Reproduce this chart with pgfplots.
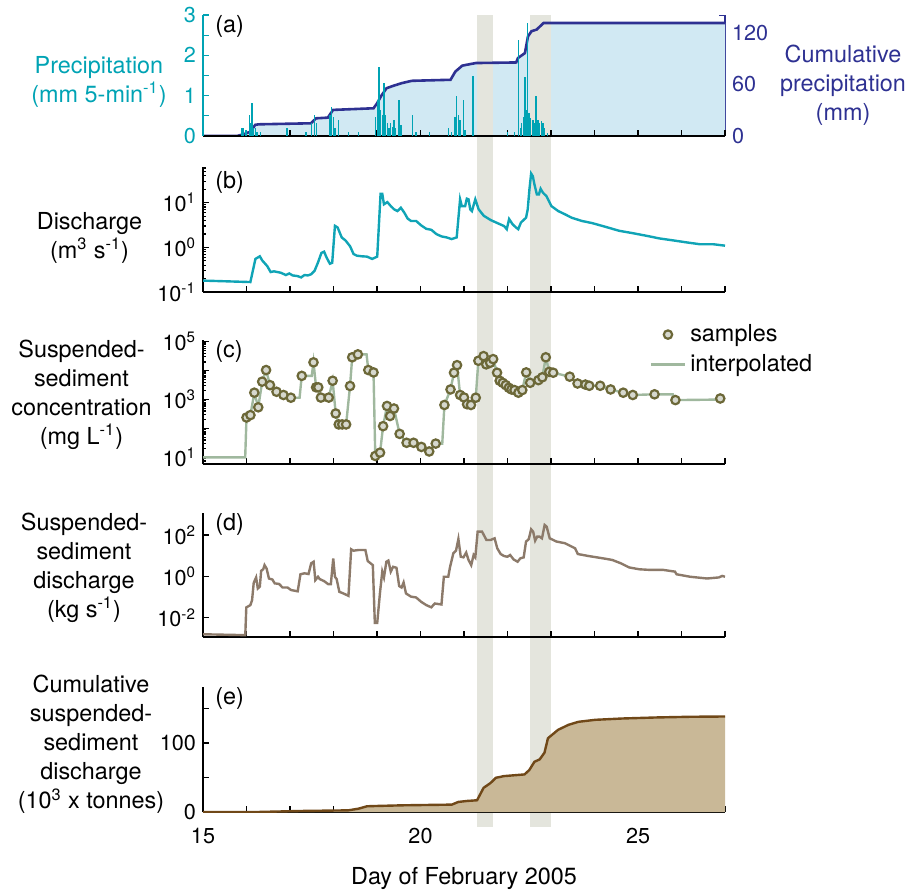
\documentclass[border=0pt]{standalone}
\usepackage{pgfplots}
\pgfplotsset{compat=1.18}
\usepackage{fontspec}
\setmainfont{TeX Gyre Heros}
\definecolor{preccol}{RGB}{0,163,180}
\definecolor{navycol}{RGB}{46,49,146}
\definecolor{cumfill}{RGB}{209,233,243}
\definecolor{qcol}{RGB}{16,164,182}
\definecolor{sampedge}{RGB}{108,104,56}
\definecolor{sampfill}{RGB}{214,216,206}
\definecolor{interp}{RGB}{160,184,158}
\definecolor{qscol}{RGB}{140,122,106}
\definecolor{cumline}{RGB}{112,72,24}
\definecolor{cumtan}{RGB}{201,184,151}
\definecolor{bandcol}{RGB}{228,229,221}
\newcommand\labf{\fontsize{11.7}{14.5}\selectfont}
\newcommand\tickf{\fontsize{10.8}{13}\selectfont}
\pgfplotsset{
  base/.style={
    scale only axis, width=261pt, xmin=15, xmax=27,
    anchor=south west,
    axis x line*=bottom, axis y line*=left,
    axis line style={-, line width=0.7pt},
    xtick={15,...,27}, xticklabels={},
    tick align=inside,
    major tick length=2.8pt, minor tick length=1.6pt,
    every tick/.style={black, line width=0.6pt},
    tick label style={font=\tickf},
  },
}
\begin{document}
\begin{tikzpicture}
% background bands spanning all panels
\begin{axis}[scale only axis, width=261pt, height=406pt, anchor=south west,
  at={(101.5pt,-413.5pt)}, xmin=15, xmax=27, ymin=0, ymax=1, hide axis]
\fill[bandcol] (axis cs:21.31,0) rectangle (axis cs:21.66,1);
\fill[bandcol] (axis cs:22.51,0) rectangle (axis cs:23.01,1);
\end{axis}

% (a) cumulative precipitation, right axis
\begin{axis}[base, at={(101.5pt,-68pt)}, height=60.5pt,
  axis y line*=right, axis x line=none,
  ymin=0, ymax=141, ytick={0,60,120}, yticklabels={0,60,120},
  minor ytick={20,40,80,100,140}, minor tick length=2.8pt,
  y axis line style={navycol}, ytick style={navycol, line width=0.6pt},
  yticklabel style={navycol}]
\addplot[fill=cumfill, draw=none] coordinates {
(15,0) (15.78,0) (15.93,2) (16.09,5) (16.2,13) (16.28,13.6) (17.48,14.8) (17.6,20.6)
(17.87,21.4) (17.99,30.4) (18.92,32.3) (19.0,38) (19.1,47) (19.22,55.7) (19.37,58.4)
(19.57,61.6) (19.8,64.3) (20.69,65.5) (20.8,75) (20.96,82) (21.27,85) (22.2,85.7)
(22.24,90.8) (22.4,96.6) (22.47,116) (22.55,122) (22.67,124) (22.83,131.7) (27,131.7)
} \closedcycle;
\fill[bandcol] (axis cs:21.31,0) rectangle (axis cs:21.66,141);
\fill[bandcol] (axis cs:22.51,0) rectangle (axis cs:23.01,141);
\addplot[navycol, line width=1.3pt] coordinates {
(15,0) (15.78,0) (15.93,2) (16.09,5) (16.2,13) (16.28,13.6) (17.48,14.8) (17.6,20.6)
(17.87,21.4) (17.99,30.4) (18.92,32.3) (19.0,38) (19.1,47) (19.22,55.7) (19.37,58.4)
(19.57,61.6) (19.8,64.3) (20.69,65.5) (20.8,75) (20.96,82) (21.27,85) (22.2,85.7)
(22.24,90.8) (22.4,96.6) (22.47,116) (22.55,122) (22.67,124) (22.83,131.7) (27,131.7)
};
\end{axis}

% (a) precipitation bars, left axis
\begin{axis}[base, at={(101.5pt,-68pt)}, height=60.5pt,
  ymin=0, ymax=3, ytick={0,1,2,3}, yticklabels={0,1,2,3},
  minor ytick={0.5,1.5,2.5}, minor tick length=2.8pt,
  y axis line style={preccol}, ytick style={preccol, line width=0.6pt},
  yticklabel style={preccol}]
\addplot[ycomb, preccol, line width=0.7pt] coordinates {
(15.894,0.21) (15.933,0.19) (15.988,0.15) (16.065,0.52) (16.089,0.31) (16.128,0.81)
(16.166,0.19) (16.205,0.19) (16.244,0.11) (16.322,0.11) (16.928,0.21) (17.372,0.11)
(17.488,0.31) (17.566,0.52) (17.605,0.31) (17.916,0.52) (17.955,0.73) (17.994,0.48)
(18.033,0.19) (18.11,0.40) (18.344,0.11) (18.577,0.11) (18.966,0.48) (19.005,0.89)
(19.044,1.72) (19.082,0.64) (19.121,0.52) (19.16,1.31) (19.199,0.52) (19.238,0.31)
(19.277,0.19) (19.316,0.31) (19.355,0.23) (19.393,0.40) (19.432,0.19) (19.51,0.89)
(19.549,0.27) (19.821,0.52) (19.899,0.11) (20.21,0.11) (20.638,0.19) (20.715,0.11)
(20.793,0.48) (20.832,0.98) (20.871,0.52) (20.91,0.40) (20.988,0.89) (21.026,0.15)
(21.205,1.49) (21.998,0.11) (22.154,0.11) (22.247,2.38) (22.294,0.19) (22.325,0.31)
(22.371,0.48) (22.403,1.47) (22.434,0.64) (22.465,2.79) (22.496,0.56) (22.527,0.44)
(22.582,0.40) (22.62,0.31) (22.659,0.98) (22.698,0.40) (22.737,0.31) (22.776,0.36)
(22.815,0.31) (22.854,0.19) (22.916,0.07)
};
\node[anchor=north west, font=\labf, inner sep=0pt] at (rel axis cs:0.023,1) {(a)};
\end{axis}

% (b) discharge
\begin{axis}[base, at={(101.5pt,-146pt)}, height=62.5pt,
  ymode=log, ymin=0.1, ymax=63,
  ytick={0.1,1,10}, yticklabels={10\textsuperscript{-1},10\textsuperscript{0},10\textsuperscript{1}},
  minor ytick={0.2,0.3,0.4,0.5,0.6,0.7,0.8,0.9,2,3,4,5,6,7,8,9,20,30,40,50,60}]
\addplot[qcol, line width=1.2pt] coordinates {
(15.0,0.18) (16.089,0.167) (16.205,0.55) (16.306,0.63) (16.361,0.51) (16.477,0.38)
(16.555,0.28) (16.633,0.29) (16.788,0.27) (16.905,0.24) (16.983,0.26) (17.061,0.235)
(17.177,0.227) (17.255,0.212) (17.333,0.24) (17.411,0.235) (17.488,0.25) (17.566,0.30)
(17.644,0.46) (17.722,0.75) (17.784,0.80) (17.838,0.60) (17.916,0.43) (17.970,0.45)
(18.033,3.03) (18.095,2.78) (18.188,1.67) (18.281,1.41) (18.383,1.05) (18.46,0.71)
(18.538,0.65) (18.655,0.63) (18.771,0.62) (18.888,0.55) (19.005,0.62) (19.082,15.8)
(19.121,15.8) (19.16,9.2) (19.238,10.3) (19.316,8.4) (19.393,7.1) (19.471,6.5)
(19.549,7.7) (19.627,6.0) (19.705,4.4) (19.782,3.9) (19.899,3.9) (20.016,3.1)
(20.132,2.6) (20.249,2.47) (20.365,1.98) (20.482,1.76) (20.599,1.67) (20.715,1.53)
(20.832,1.67) (20.91,11.9) (20.949,8.4) (21.026,8.4) (21.065,12.3) (21.104,11.9)
(21.143,7.1) (21.182,6.5) (21.26,11.9) (21.337,7.1) (21.454,5.1) (21.61,4.1)
(21.765,3.5) (21.921,3.0) (21.983,2.55) (22.037,4.3) (22.115,3.3) (22.193,2.8)
(22.247,2.55) (22.309,3.6) (22.426,4.6) (22.465,7.1) (22.504,19.8) (22.543,44.9)
(22.582,39.1) (22.62,25.5) (22.675,15.3) (22.722,15.3) (22.761,20.5) (22.815,16.7)
(22.893,14.1) (23.009,8.4) (23.165,6.5) (23.32,5.5) (23.476,4.6) (23.709,3.9)
(23.942,3.5) (24.253,2.88) (24.565,2.35) (24.876,2.08) (25.187,1.82) (25.498,1.58)
(25.809,1.43) (26.12,1.29) (26.431,1.17) (26.742,1.17) (27.0,1.09)
};
\node[anchor=north west, font=\labf, inner sep=0pt] at (rel axis cs:0.023,0.97) {(b)};
\end{axis}

% (c) SSC
\begin{axis}[base, at={(101.5pt,-232pt)}, height=62pt,
  ymode=log, ymin=5.9, ymax=1.15e5,
  ytick={10,100,1000,10000,100000},
  yticklabels={10\textsuperscript{1},,10\textsuperscript{3},,10\textsuperscript{5}},
  minor ytick={6,7,8,9,20,30,40,50,60,70,80,90,200,300,400,500,600,700,800,900,2000,3000,4000,5000,6000,7000,8000,9000,20000,30000,40000,50000,60000,70000,80000,90000},
  legend style={at={(0.855,1.16)}, anchor=north west, draw=none, fill=none,
    font=\labf, inner sep=0pt, row sep=1pt},
  legend cell align=left]
\addplot[interp, line width=1.2pt, forget plot] coordinates {
(15,10) (15.97,10) (16.0,240) (16.09,290) (16.18,1730) (16.27,540) (16.36,4170)
(16.45,10500) (16.54,3160) (16.69,1860) (16.85,1440) (17.02,1160) (17.22,1160)
(17.27,6600) (17.50,6600) (17.54,19400) (17.60,2650) (17.65,2650) (17.71,1170)
(17.89,1170) (17.98,4480) (18.05,330) (18.12,138) (18.2,138) (18.29,138) (18.38,2950)
(18.43,29000) (18.56,36600) (18.76,36600) (18.80,10500) (18.92,8700) (18.96,11.2)
(19.07,14.6) (19.14,120) (19.23,600) (19.30,270) (19.39,490) (19.52,65) (19.68,32)
(19.84,32) (20.02,23) (20.20,16) (20.35,30) (20.50,30) (20.55,650) (20.69,2240)
(20.77,8500) (20.84,15500) (20.91,1440) (21.0,1180) (21.07,690) (21.16,650)
(21.27,1160) (21.33,22000) (21.45,31900) (21.51,16500) (21.60,18700) (21.67,25100)
(21.76,8500) (21.82,4480) (21.89,3800) (21.96,3160) (22.03,2560) (22.09,2240)
(22.16,2130) (22.25,1730) (22.34,2130) (22.43,8700) (22.52,3800) (22.71,4700)
(22.80,5900) (22.88,29000) (22.96,9100) (23.05,8500) (23.43,6200) (23.61,3600)
(23.79,3300) (23.88,3000) (24.13,3000) (24.37,2240) (24.66,1730) (24.88,1440)
(25.38,1520) (25.80,1520) (25.86,960) (26.89,1000)
};
\addplot[only marks, mark=*, mark size=2.1pt,
  mark options={fill=sampfill, draw=sampedge, line width=1.1pt}] coordinates {
(16.0,240) (16.09,290) (16.18,1730) (16.27,540) (16.36,4170) (16.45,10500) (16.54,3160)
(16.69,1860) (16.85,1440) (17.02,1160) (17.27,6600) (17.54,19400) (17.60,2650)
(17.65,2650) (17.71,1170) (17.89,1170) (17.98,4480) (18.05,330) (18.12,138) (18.2,138)
(18.29,138) (18.38,2950) (18.43,29000) (18.56,36600) (18.80,10500) (18.92,8700)
(18.96,11.2) (19.07,14.6) (19.14,120) (19.23,600) (19.30,270) (19.39,490) (19.52,65)
(19.68,32) (19.84,32) (20.02,23) (20.20,16) (20.35,30) (20.55,650) (20.69,2240)
(20.77,8500) (20.84,15500) (20.91,1440) (21.0,1180) (21.07,690) (21.16,650)
(21.27,1160) (21.33,22000) (21.45,31900) (21.51,16500) (21.60,18700) (21.67,25100)
(21.76,8500) (21.82,4480) (21.89,3800) (21.96,3160) (22.03,2560) (22.09,2240)
(22.16,2130) (22.25,1730) (22.34,2130) (22.43,8700) (22.52,3800) (22.71,4700)
(22.80,5900) (22.88,29000) (22.96,9100) (23.05,8500) (23.43,6200) (23.61,3600)
(23.79,3300) (23.88,3000) (24.13,3000) (24.37,2240) (24.66,1730) (24.88,1440)
(25.38,1520) (25.86,960) (26.89,1090)
};
\addlegendentry{samples}
\addlegendimage{interp, line width=1.2pt}
\addlegendentry{interpolated}
\node[anchor=north west, font=\labf, inner sep=0pt] at (rel axis cs:0.023,1) {(c)};
\end{axis}

% (d) SS discharge
\begin{axis}[base, at={(101.5pt,-318.5pt)}, height=62pt,
  ymode=log, ymin=0.00118, ymax=1150,
  ytick={0.01,1,100}, yticklabels={10\textsuperscript{-2},10\textsuperscript{0},10\textsuperscript{2}},
  minor ytick={}]
\addplot[qscol, line width=1.2pt] coordinates {
(15.00,0.0016) (15.972,0.00145) (15.995,0.0316) (16.089,0.041) (16.128,0.071)
(16.166,0.49) (16.221,0.89) (16.26,0.26) (16.306,0.32) (16.337,1.87) (16.384,2.2)
(16.415,3.5) (16.462,2.4) (16.516,0.79) (16.594,0.71) (16.649,0.46) (16.75,0.43)
(16.827,0.29) (16.944,0.29) (17.022,0.22) (17.177,0.19) (17.24,1.26) (17.333,1.41)
(17.426,1.3) (17.488,4.3) (17.543,5.1) (17.582,0.66) (17.644,0.96) (17.683,0.74)
(17.784,0.59) (17.877,0.42) (17.939,0.42) (17.994,7.4) (18.033,0.96) (18.072,0.74)
(18.134,0.18) (18.227,0.15) (18.344,0.115) (18.406,20.4) (18.46,17.4) (18.577,18.8)
(18.733,18.8) (18.787,5.5) (18.904,3.5) (18.95,0.0057) (19.005,0.0057) (19.067,0.15)
(19.121,1.7) (19.16,0.89) (19.215,5.1) (19.261,5.8) (19.316,1.7) (19.37,2.9)
(19.448,2.6) (19.51,0.34) (19.565,0.29) (19.611,0.51) (19.666,0.15) (19.782,0.105)
(19.899,0.096) (20.016,0.059) (20.132,0.041) (20.249,0.032) (20.327,0.049)
(20.482,0.044) (20.537,0.96) (20.638,0.96) (20.677,2.7) (20.754,12.9) (20.816,17.4)
(20.871,64) (20.925,8.9) (20.988,8.3) (21.05,14.1) (21.104,6.2) (21.166,3.5)
(21.221,10.8) (21.26,8.3) (21.314,145) (21.415,145) (21.516,57) (21.61,57) (21.703,69)
(21.765,22.6) (21.843,12) (21.921,9.6) (21.998,8.9) (22.061,10.8) (22.138,6.6)
(22.232,5.1) (22.294,7.4) (22.372,8.3) (22.426,48) (22.488,62) (22.543,188)
(22.589,145) (22.636,53) (22.683,83) (22.737,83) (22.792,69) (22.854,304) (22.9,253)
(22.97,69) (23.126,48) (23.32,40) (23.554,22.6) (23.616,12) (23.865,9.6) (24.253,7.1)
(24.409,6.2) (24.603,4.3) (24.798,2.7) (25.031,2.2) (25.264,2.06) (25.575,2.06)
(25.848,1.7) (25.887,1.26) (26.198,0.96) (26.586,0.79) (26.858,0.89) (26.936,1.05)
(27.0,0.96)
};
\node[anchor=north west, font=\labf, inner sep=0pt] at (rel axis cs:0.023,1) {(d)};
\end{axis}

% (e) cumulative SS discharge
\begin{axis}[base, at={(101.5pt,-406pt)}, height=62.5pt,
  ymin=0, ymax=181, ytick={0,100}, yticklabels={0,100},
  minor ytick={50,150}, minor tick length=2.8pt,
  xticklabels={15,,,,,20,,,,,25,,},
  xticklabel style={yshift=-4.5pt}]
\addplot[fill=cumtan, draw=none] coordinates {
(15,0) (16.24,0) (17.26,1.5) (18.34,2.4) (18.58,4.9) (18.77,8.3) (18.97,8.7)
(19.59,9.7) (20.72,10.7) (20.87,14.6) (21.07,16) (21.30,17) (21.45,35) (21.61,42)
(21.73,49.5) (21.92,52) (22.39,54.4) (22.5,60.7) (22.62,72.8) (22.74,76.2)
(22.85,85.9) (22.93,106.8) (23.16,118.9) (23.4,126.2) (23.63,130.6) (24.02,133.5)
(24.64,135.4) (25.42,136.9) (26.2,137.9) (27,138.3)
} \closedcycle;
\addplot[cumline, line width=1.2pt] coordinates {
(15,0) (16.24,0) (17.26,1.5) (18.34,2.4) (18.58,4.9) (18.77,8.3) (18.97,8.7)
(19.59,9.7) (20.72,10.7) (20.87,14.6) (21.07,16) (21.30,17) (21.45,35) (21.61,42)
(21.73,49.5) (21.92,52) (22.39,54.4) (22.5,60.7) (22.62,72.8) (22.74,76.2)
(22.85,85.9) (22.93,106.8) (23.16,118.9) (23.4,126.2) (23.63,130.6) (24.02,133.5)
(24.64,135.4) (25.42,136.9) (26.2,137.9) (27,138.3)
};
\node[anchor=north west, font=\labf, inner sep=0pt] at (rel axis cs:0.023,1) {(e)};
\end{axis}

% labels
\node[align=center, font=\labf, text=preccol] at (49.5pt,-41pt) {Precipitation\\(mm 5-min\textsuperscript{-1})};
\node[align=center, font=\labf, text=navycol] at (421.5pt,-42.5pt) {Cumulative\\precipitation\\(mm)};
\node[align=center, font=\labf] at (44.75pt,-118.75pt) {Discharge\\(m\textsuperscript{3} s\textsuperscript{-1})};
\node[align=center, font=\labf] at (40.75pt,-197.25pt) {Suspended-\\sediment\\concentration\\(mg L\textsuperscript{-1})};
\node[align=center, font=\labf] at (42pt,-283.75pt) {Suspended-\\sediment\\discharge\\(kg s\textsuperscript{-1})};
\node[align=center, font=\labf] at (45.5pt,-372.25pt) {Cumulative\\suspended-\\sediment\\discharge\\(10\textsuperscript{3} x tonnes)};
\node[font=\labf] at (232pt,-439pt) {Day of February 2005};

\pgfresetboundingbox
\path[use as bounding box] (0,0) rectangle (454pt,-446pt);
\end{tikzpicture}
\end{document}
